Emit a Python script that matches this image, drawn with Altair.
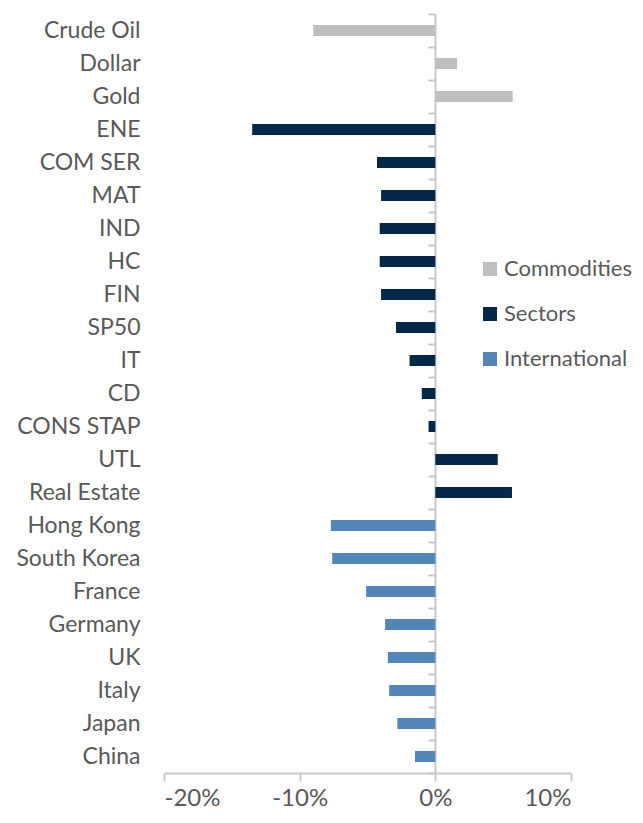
import altair as alt
import pandas as pd

categories = ["Crude Oil", "Dollar", "Gold", "ENE", "COM SER", "MAT", "IND", "HC", "FIN",
              "SP50", "IT", "CD", "CONS STAP", "UTL", "Real Estate", "Hong Kong",
              "South Korea", "France", "Germany", "UK", "Italy", "Japan", "China"]
values = [-0.090, 0.016, 0.057, -0.135, -0.043, -0.040, -0.041, -0.041, -0.040,
          -0.029, -0.019, -0.010, -0.005, 0.046, 0.0565, -0.077,
          -0.076, -0.051, -0.037, -0.035, -0.034, -0.028, -0.015]
groups = ["Commodities"] * 3 + ["Sectors"] * 12 + ["International"] * 8
group_order = ["Commodities", "Sectors", "International"]
group_colors = ["#BFBFBF", "#03284A", "#5186B7"]
x_ticks = [-0.2, -0.1, 0, 0.1]

df = pd.DataFrame({"cat": categories, "val": values, "grp": groups})

W, H = 407, 759
FONT = "Lato"
GREY = "#595959"
LINE = "#C8C8C8"

x_axis = alt.Axis(values=x_ticks, title=None,
                  labelExpr="(datum.value < 0 ? '-' : '') + format(abs(datum.value), '.0%')",
                  grid=False, domainColor=LINE, domainWidth=2, tickColor=LINE,
                  tickWidth=2, tickSize=8, labelFontSize=24, labelColor=GREY,
                  labelFont=FONT, labelPadding=5)
x_scale = alt.Scale(domain=[-0.20, 0.10], nice=False)
y_scale = alt.Scale(paddingInner=0, paddingOuter=0)

bars = alt.Chart(df).mark_bar(size=11).encode(
    x=alt.X("val:Q", scale=x_scale, axis=x_axis),
    y=alt.Y("cat:N", sort=categories, scale=y_scale,
            axis=alt.Axis(title=None, domain=False, ticks=False, labelFontSize=23,
                          labelColor=GREY, labelFont=FONT, labelPadding=24)),
    color=alt.Color("grp:N", scale=alt.Scale(domain=group_order, range=group_colors),
                    legend=alt.Legend(title=None, orient="none", legendX=315, legendY=244,
                                      symbolType="square", symbolSize=196,
                                      symbolStrokeWidth=0, labelFontSize=22,
                                      labelColor=GREY, labelFont=FONT, rowPadding=23,
                                      labelOffset=3)),
)

zero_axis = alt.Chart(df).mark_bar(opacity=0).encode(
    x=alt.X("val:Q", scale=x_scale, axis=x_axis),
    y=alt.Y("cat:N", sort=categories, scale=y_scale,
            axis=alt.Axis(title=None, orient="left", offset=-round(W * 2 / 3),
                          labels=False, domain=True, domainColor=LINE, domainWidth=2,
                          ticks=True, tickBand="extent", tickColor=LINE, tickWidth=2,
                          tickSize=7)),
)

chart = alt.layer(bars, zero_axis).resolve_axis(y="independent").properties(
    width=W, height=H,
    autosize=alt.AutoSizeParams(type="none"),
    padding={"left": 156, "top": 6, "right": 64, "bottom": 40},
    background="white"
).configure_view(strokeWidth=0)

chart.save("out.html", embed_options={"renderer": "svg", "actions": False})
